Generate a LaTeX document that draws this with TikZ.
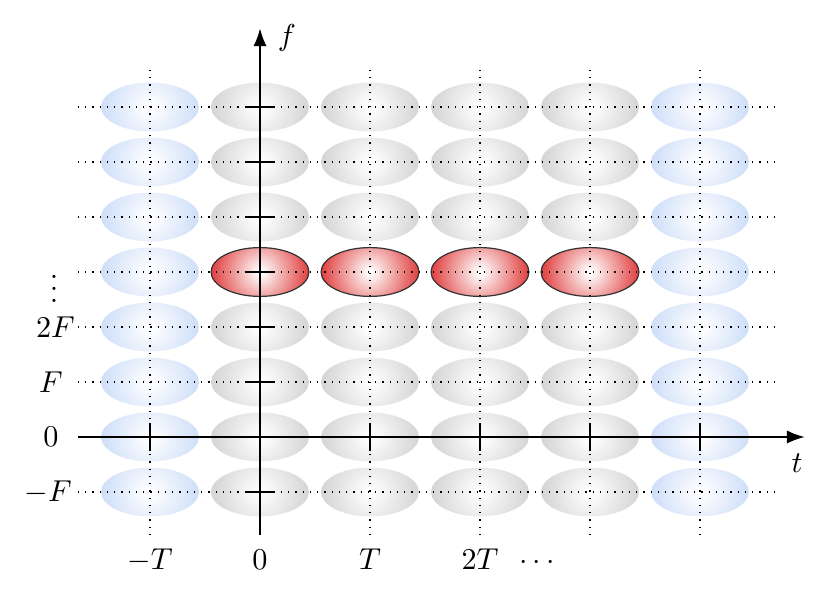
\documentclass[tikz,border=0pt]{standalone}
\usetikzlibrary{arrows.meta}
\definecolor{gout}{RGB}{212,212,212}
\definecolor{bout}{RGB}{206,222,248}
\definecolor{rout}{RGB}{224,62,62}
\pgfdeclareradialshading{gshade}{\pgfpointorigin}{color(0bp)=(white); color(1bp)=(white); color(25bp)=(gout); color(50bp)=(gout)}
\pgfdeclareradialshading{bshade}{\pgfpointorigin}{color(0bp)=(white); color(1bp)=(white); color(25bp)=(bout); color(50bp)=(bout)}
\pgfdeclareradialshading{rshade}{\pgfpointorigin}{color(0bp)=(white); color(1bp)=(white); color(25bp)=(rout); color(50bp)=(rout)}
\newcommand\mycell[3]{%
  \begin{scope}
    \clip (#1,#2) ellipse [x radius=0.445, y radius=0.222];
    \shade[shading=#3] (#1,#2) circle [radius=0.445];
  \end{scope}}
\begin{document}
\begin{tikzpicture}[x=1.28cm,y=1.28cm,
  grid/.style={dotted, line width=0.4pt},
  axis/.style={line width=0.8pt, -{Latex[length=6pt,width=4.4pt]}},
  tickmark/.style={line width=0.8pt},
  rim/.style={draw=black!80, line width=0.4pt},
  lbl/.style={inner sep=0pt}]
\useasboundingbox (-2.364,-1.445) rectangle (5.182,3.973);
% cells
\foreach \r in {-0.5,0,...,3}{
  \mycell{-1}{\r}{bshade}
  \mycell{4}{\r}{bshade}
  \foreach \c in {0,1,2,3}{
    \mycell{\c}{\r}{gshade}
  }
}
\foreach \c in {0,1,2,3}{
  \mycell{\c}{1.5}{rshade}
  \draw[rim] (\c,1.5) ellipse [x radius=0.445, y radius=0.222];
}
% grid
\foreach \r in {-0.5,0.5,1,1.5,2,2.5,3}{
  \draw[grid] (-1.655,\r) -- (4.727,\r);
}
\foreach \c in {-1,1,2,3,4}{
  \draw[grid] (\c,-0.891) -- (\c,3.355);
}
% axes
\coordinate (tstart) at (-1.655,0);
\coordinate (tend) at (4.955,0);
\coordinate (fstart) at (0,-0.891);
\coordinate (fend) at (0,3.718);
\draw[axis] (tstart) -- (tend);
\draw[axis] (fstart) -- (fend);
% ticks
\foreach \c in {-1,1,2,3,4}{
  \draw[tickmark] (\c,-0.13) -- (\c,0.13);
}
\foreach \r in {-0.5,0.5,1,1.5,2,2.5,3}{
  \draw[tickmark] (-0.13,\r) -- (0.13,\r);
}
% labels
\node[lbl] (flab) at (0.245,3.627) {$f$};
\node[lbl] (tlab) at (4.882,-0.236) {$t$};
\node[lbl, anchor=base] (xm1) at (-1,-1.205) {$-T$};
\node[lbl, anchor=base] (x0) at (0,-1.205) {$0$};
\node[lbl, anchor=base] (x1) at (1,-1.205) {$T$};
\node[lbl, anchor=base] (x2) at (2,-1.205) {$2T$};
\node[lbl, anchor=base] (xd) at (2.52,-1.205) {$\cdots$};
\node[lbl] (ym1) at (-1.927,-0.5) {$-F$};
\node[lbl] (y0) at (-1.9,0) {$0$};
\node[lbl] (y1) at (-1.9,0.5) {$F$};
\node[lbl] (y2) at (-1.86,1) {$2F$};
\node[lbl] (yd) at (-1.873,1.43) {$\vdots$};
\end{tikzpicture}
\end{document}
